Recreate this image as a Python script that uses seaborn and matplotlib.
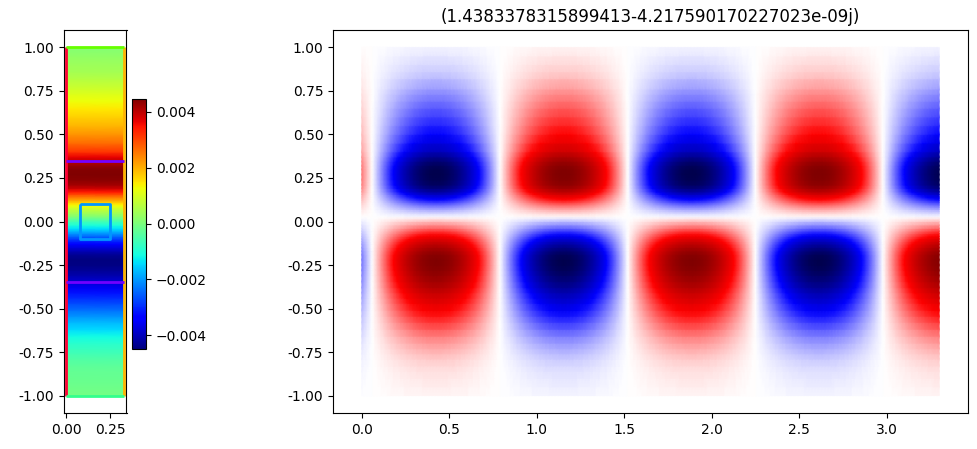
import numpy as np
import matplotlib
matplotlib.use("Agg")
import matplotlib.pyplot as plt
import seaborn as sns

sns.set_style("ticks", rc={
    "axes.edgecolor": "black", "text.color": "black", "axes.labelcolor": "black",
    "xtick.color": "black", "ytick.color": "black",
})
plt.rcParams["font.family"] = ["DejaVu Sans"]

# mode profile across the slab (units of 1e-3)
y_profile = [-1.00, -0.95, -0.90, -0.86, -0.83, -0.79, -0.76, -0.73, -0.70, -0.66,
             -0.62, -0.58, -0.545, -0.51, -0.47, -0.44, -0.41, -0.38, -0.345, -0.31,
             -0.28, -0.25, -0.22, -0.19, -0.17, -0.15, -0.13, -0.115, -0.10, -0.085,
             -0.07, -0.055, -0.04, -0.02, 0.00, 0.015, 0.03, 0.045, 0.055, 0.07,
             0.08, 0.09, 0.10, 0.11, 0.12, 0.13, 0.14, 0.155, 0.17, 0.19,
             0.21, 0.24, 0.27, 0.30, 0.32, 0.345, 0.37, 0.40, 0.45, 0.50,
             0.55, 0.60, 0.65, 0.69, 0.73, 0.76, 0.82, 0.86, 0.90, 0.95, 1.00]
e_profile = [-0.10, -0.15, -0.22, -0.28, -0.35, -0.47, -0.60, -0.75, -0.90, -1.15,
             -1.45, -1.75, -2.05, -2.35, -2.70, -2.95, -3.20, -3.55, -3.85, -4.10,
             -4.30, -4.42, -4.45, -4.30, -4.05, -3.75, -3.40, -3.10, -2.80, -2.45,
             -2.10, -1.75, -1.40, -1.00, -0.60, -0.25, 0.10, 0.35, 0.50, 0.80,
             1.00, 1.22, 1.45, 1.72, 2.00, 2.25, 2.50, 2.95, 3.40, 3.85,
             4.20, 4.40, 4.48, 4.42, 4.30, 4.00, 3.65, 3.15, 2.65, 2.25,
             1.95, 1.70, 1.45, 1.25, 1.05, 0.90, 0.60, 0.45, 0.35, 0.22, 0.10]
e_profile = [v * 1e-3 for v in e_profile]

slab_width = 0.325      # width of the cross-section strip
prop_length = 3.3       # length of the propagation view
beat_period = 1.46      # read from the spacing of the lobes
first_trough = 0.425    # x of first negative lobe (upper half)
neff = (1.4383378315899413 - 4.217590170227023e-09j)

# geometry outlines: (xs, ys, colour)
outlines = [
    ([0, 0], [-1, 1], "#ff0033"),
    ([slab_width, slab_width], [-1, 1], "#ffb400"),
    ([0, slab_width], [1, 1], "#66ff00"),
    ([0, slab_width], [-1, -1], "#33ff8c"),
    ([0, slab_width], [0.345, 0.345], "#7300ff"),
    ([0, slab_width], [-0.345, -0.345], "#7300ff"),
    ([0.077, 0.248, 0.248, 0.077, 0.077], [0.10, 0.10, -0.10, -0.10, 0.10], "#0096ff"),
]

W, H = 978, 449
fig = plt.figure(figsize=(W / 100, H / 100), dpi=100)


def px_axes(x0, y0, x1, y1):
    return fig.add_axes([x0 / W, 1 - y1 / H, (x1 - x0) / W, (y1 - y0) / H])


ax1 = px_axes(63.5, 30, 126.5, 413)
cax = px_axes(132, 98.5, 146, 348.5)
ax2 = px_axes(333, 30, 968, 413)

ey = np.array(e_profile)
yy = np.array(y_profile)
vmax = np.abs(ey).max()

jet = matplotlib.colormaps["jet"]
seismic = sns.color_palette("seismic", as_cmap=True)

# left: cross-section strip
X1, Y1 = np.meshgrid([0, slab_width], yy)
C1 = np.column_stack([ey, ey])
m1 = ax1.pcolormesh(X1, Y1, C1, shading="gouraud", cmap=jet, vmin=-vmax, vmax=vmax)
for xs, ys, c in outlines:
    ax1.plot(xs, ys, color=c, lw=2, solid_capstyle="butt")
ax1.set_xlim(-0.05 * slab_width, 1.05 * slab_width)
ax1.set_ylim(-1.1, 1.1)
ax1.set_xticks([0, 0.25])
ax1.set_yticks(np.arange(-1, 1.01, 0.25))
ax1.xaxis.set_major_formatter(plt.FormatStrFormatter("%.2f"))
ax1.yaxis.set_major_formatter(plt.FormatStrFormatter("%.2f"))
fig.colorbar(m1, cax=cax, ticks=[-0.004, -0.002, 0, 0.002, 0.004])
cax.set_yticklabels(["\u22120.004", "\u22120.002", "0.000", "0.002", "0.004"])

# right: field along propagation
xs = np.linspace(0, prop_length, 400)
along = -np.cos(2 * np.pi * (xs - first_trough) / beat_period)
X2, Y2 = np.meshgrid(xs, yy)
C2 = np.outer(ey, along)
ax2.pcolormesh(X2, Y2, C2, shading="gouraud", cmap=seismic, vmin=-vmax, vmax=vmax)
ax2.set_xlim(-0.05 * prop_length, 1.05 * prop_length)
ax2.set_ylim(-1.1, 1.1)
ax2.set_xticks(np.arange(0, 3.01, 0.5))
ax2.set_yticks(np.arange(-1, 1.01, 0.25))
ax2.xaxis.set_major_formatter(plt.FormatStrFormatter("%.1f"))
ax2.yaxis.set_major_formatter(plt.FormatStrFormatter("%.2f"))
ax2.set_title(str(neff), fontsize=12)

fig.savefig("out.png", dpi=100)
